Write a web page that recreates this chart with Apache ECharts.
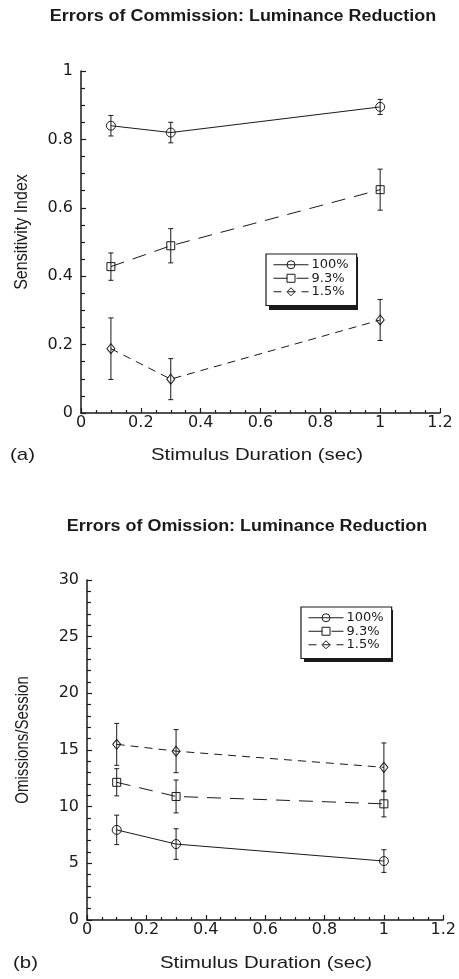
<!DOCTYPE html>
<html>
<head>
<meta charset="utf-8">
<script src="https://cdn.jsdelivr.net/npm/echarts@6/dist/echarts.min.js"></script>
<style>
  html, body { margin: 0; padding: 0; background: #fff; }
  #chart { width: 459px; height: 979px; }
</style>
</head>
<body>
<div id="chart"></div>
<script>
// Stimulus durations (sec) shared by both panels
const durations = [0.1, 0.3, 1.0];
const seriesNames = ['100%', '9.3%', '1.5%'];

// Panel (a): sensitivity index, mean and error half-width
const commissionMean100 = [0.84, 0.82, 0.895];
const commissionErr100 = [0.03, 0.03, 0.022];
const commissionMean93 = [0.428, 0.489, 0.653];
const commissionErr93 = [0.04, 0.05, 0.06];
const commissionMean15 = [0.188, 0.099, 0.272];
const commissionErr15 = [0.09, 0.06, 0.06];

// Panel (b): omissions per session, mean and error half-width
const omissionMean100 = [7.95, 6.7, 5.2];
const omissionErr100 = [1.3, 1.35, 1.0];
const omissionMean93 = [12.15, 10.9, 10.25];
const omissionErr93 = [1.2, 1.45, 1.15];
const omissionMean15 = [15.5, 14.9, 13.47];
const omissionErr15 = [1.85, 1.9, 2.15];

// Axis tick settings
const xTicks = { min: 0, max: 1.2, interval: 0.2 };
const yTicksA = { min: 0, max: 1, interval: 0.2 };
const yTicksB = { min: 0, max: 30, interval: 5 };

const INK = '#1a1a1a';
const FONT = 'DejaVu Sans';
const SANS = '"Liberation Sans", Arial, sans-serif';

const styles = [
  { symbol: 'circle', size: 9, type: 'solid' },
  { symbol: 'rect', size: 8, type: [14, 9] },
  { symbol: 'diamond', size: [8, 10], type: [8, 6] }
];

function pairs(means) {
  return durations.map((d, i) => [d, means[i]]);
}
function triples(means, errs) {
  return durations.map((d, i) => [d, means[i], errs[i]]);
}

function lineSeries(name, idx, means, gridIdx) {
  const s = styles[idx];
  return {
    type: 'line',
    name: name,
    xAxisIndex: gridIdx,
    yAxisIndex: gridIdx,
    data: pairs(means),
    symbol: s.symbol,
    symbolSize: s.size,
    showAllSymbol: true,
    lineStyle: { color: INK, width: 1, type: s.type },
    itemStyle: { color: 'rgba(255,255,255,0)', borderColor: INK, borderWidth: 1 },
    emphasis: { disabled: true },
    z: 3
  };
}

function errorSeries(means, errs, gridIdx) {
  return {
    type: 'custom',
    xAxisIndex: gridIdx,
    yAxisIndex: gridIdx,
    data: triples(means, errs),
    silent: true,
    z: 4,
    renderItem: function (params, api) {
      const x = api.value(0), m = api.value(1), e = api.value(2);
      const top = api.coord([x, m + e]);
      const bot = api.coord([x, m - e]);
      const cap = 2.5;
      const st = { stroke: INK, lineWidth: 1 };
      return {
        type: 'group',
        children: [
          { type: 'line', shape: { x1: top[0], y1: top[1], x2: bot[0], y2: bot[1] }, style: st },
          { type: 'line', shape: { x1: top[0] - cap, y1: top[1], x2: top[0] + cap, y2: top[1] }, style: st },
          { type: 'line', shape: { x1: bot[0] - cap, y1: bot[1], x2: bot[0] + cap, y2: bot[1] }, style: st }
        ]
      };
    }
  };
}

function xAxis(gridIdx) {
  return {
    type: 'value',
    gridIndex: gridIdx,
    min: xTicks.min, max: xTicks.max, interval: xTicks.interval,
    axisLine: { lineStyle: { color: INK, width: 1.5 } },
    axisTick: { inside: true, length: 5, lineStyle: { color: INK, width: 1.2 } },
    minorTick: { show: true, splitNumber: 4, length: 3, lineStyle: { color: INK, width: 1.2 } },
    splitLine: { show: false },
    axisLabel: { color: INK, fontFamily: FONT, fontSize: 16, margin: 2 }
  };
}

function yAxis(gridIdx, ticks, split) {
  return {
    type: 'value',
    gridIndex: gridIdx,
    min: ticks.min, max: ticks.max, interval: ticks.interval,
    axisLine: { show: true, lineStyle: { color: INK, width: 1.5 } },
    axisTick: { show: true, inside: true, length: 5, lineStyle: { color: INK, width: 1.2 } },
    minorTick: { show: true, splitNumber: split, length: 4, lineStyle: { color: INK, width: 1.2 } },
    splitLine: { show: false },
    axisLabel: { color: INK, fontFamily: FONT, fontSize: 16, margin: 8 }
  };
}

function legend(left, top, seriesIdx) {
  return {
    left: left, top: top,
    orient: 'vertical',
    data: seriesNames,
    seriesIndex: seriesIdx,
    itemWidth: 35, itemHeight: 10, itemGap: 0,
    padding: [4, 8, 7, 7],
    backgroundColor: '#fff',
    borderColor: INK, borderWidth: 1.2, borderRadius: 0,
    selectedMode: false,
    z: 6,
    lineStyle: { width: 1 },
    itemStyle: { borderWidth: 1 },
    textStyle: { color: INK, fontFamily: FONT, fontSize: 13, lineHeight: 13.5, padding: [0, 0, 0, -2] }
  };
}

// Horizontal text drawn slightly widened, vertical text drawn slightly thickened
function hText(str, x, y, size, weight, align, sx) {
  return { type: 'text', x: x, y: y, scaleX: sx || 1.2, z: 10,
    style: { text: str, fill: INK, font: (weight || 'normal') + ' ' + size + 'px ' + SANS,
      align: align || 'center', verticalAlign: 'middle' } };
}
function vText(str, x, y, size) {
  return { type: 'text', x: x, y: y, rotation: Math.PI / 2, scaleY: 1.2, z: 10,
    style: { text: str, fill: INK, font: size + 'px ' + SANS, align: 'center', verticalAlign: 'middle' } };
}

const chart = echarts.init(document.getElementById('chart'), null, { renderer: 'canvas' });

const option = {
  animation: false,
  backgroundColor: '#fff',
  grid: [
    { left: 81, top: 71, width: 359, height: 342 },
    { left: 87, top: 580, width: 359, height: 340 }
  ],
  xAxis: [xAxis(0), xAxis(1)],
  yAxis: [yAxis(0, yTicksA, 4), yAxis(1, yTicksB, 5)],
  legend: [
    legend(266, 254, [0, 1, 2]),
    legend(301, 607, [6, 7, 8])
  ],
  graphic: [
    // drop shadows behind the two legend boxes
    { type: 'rect', shape: { x: 269, y: 257, width: 89, height: 53 }, style: { fill: INK }, z: 1 },
    { type: 'rect', shape: { x: 304, y: 610, width: 89, height: 52 }, style: { fill: INK }, z: 1 },
    hText('Errors of Commission: Luminance Reduction', 243, 17, 16, 'bold', 'center', 1.12),
    hText('Errors of Omission: Luminance Reduction', 247, 527, 16, 'bold', 'center', 1.12),
    hText('Stimulus Duration (sec)', 257, 455, 17),
    hText('Stimulus Duration (sec)', 266, 963, 17),
    hText('(a)', 10, 455, 17, 'normal', 'left'),
    hText('(b)', 13, 963, 17, 'normal', 'left'),
    vText('Sensitivity Index', 22, 232, 16),
    vText('Omissions/Session', 23, 740, 15)
  ],
  series: [
    lineSeries(seriesNames[0], 0, commissionMean100, 0),
    lineSeries(seriesNames[1], 1, commissionMean93, 0),
    lineSeries(seriesNames[2], 2, commissionMean15, 0),
    errorSeries(commissionMean100, commissionErr100, 0),
    errorSeries(commissionMean93, commissionErr93, 0),
    errorSeries(commissionMean15, commissionErr15, 0),
    lineSeries(seriesNames[0], 0, omissionMean100, 1),
    lineSeries(seriesNames[1], 1, omissionMean93, 1),
    lineSeries(seriesNames[2], 2, omissionMean15, 1),
    errorSeries(omissionMean100, omissionErr100, 1),
    errorSeries(omissionMean93, omissionErr93, 1),
    errorSeries(omissionMean15, omissionErr15, 1)
  ]
};

chart.setOption(option);
</script>
</body>
</html>
